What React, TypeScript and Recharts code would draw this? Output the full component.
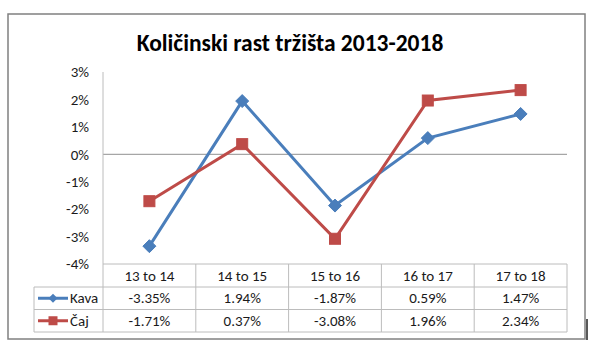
import React from 'react';
import { LineChart, Line, XAxis, YAxis, ReferenceLine, Customized } from 'recharts';

const title = 'Količinski rast tržišta 2013-2018';
const categories = ['13 to 14', '14 to 15', '15 to 16', '16 to 17', '17 to 18'];
const kava = [-3.35, 1.94, -1.87, 0.59, 1.47];
const caj = [-1.71, 0.37, -3.08, 1.96, 2.34];
const seriesNames = ['Kava', 'Čaj'];
const yTicks = [-4, -3, -2, -1, 0, 1, 2, 3];

const data = categories.map((c, i) => ({ cat: c, kava: kava[i], caj: caj[i] }));

const W = 596;
const H = 352;
const PLOT_L = 103;
const PLOT_R = 567;
const PLOT_T = 72;
const PLOT_B = 264;
const ROW1 = 287;
const ROW2 = 309.5;
const ROW3 = 332;
const LEG_L = 34;
const BLUE = '#4a7ebb';
const RED = '#be4b48';
const GRID = '#bcbcbc';
const FONT = 'Carlito, Calibri, Lato, "Liberation Sans", sans-serif';
const TXT = '#1a1a1a';
const FS = 15;

const halfBand = (PLOT_R - PLOT_L) / categories.length / 2;

const fmt = (v: number) => `${v.toFixed(2)}%`;

const Diamond = (props: any) => {
  const { cx, cy } = props;
  if (cx == null || cy == null) return null;
  const r = 6.5;
  return (
    <polygon
      points={`${cx},${cy - r} ${cx + r},${cy} ${cx},${cy + r} ${cx - r},${cy}`}
      fill={BLUE}
      stroke={BLUE}
      strokeWidth={1}
    />
  );
};

const Square = (props: any) => {
  const { cx, cy } = props;
  if (cx == null || cy == null) return null;
  const s = 11;
  return <rect x={cx - s / 2} y={cy - s / 2} width={s} height={s} fill={RED} stroke={RED} strokeWidth={1} />;
};

const TableTick = (props: any) => {
  const { x, payload, index } = props;
  const i = index as number;
  return (
    <g>
      <line x1={x + halfBand} y1={PLOT_B} x2={x + halfBand} y2={ROW3} stroke={GRID} strokeWidth={1} />
      <text x={x} y={(PLOT_B + ROW1) / 2 + 0.5} textAnchor="middle" dominantBaseline="central" fontSize={FS} fontFamily={FONT} fill={TXT}>
        {payload.value}
      </text>
      <text x={x} y={(ROW1 + ROW2) / 2} textAnchor="middle" dominantBaseline="central" fontSize={FS} fontFamily={FONT} fill={TXT}>
        {fmt(kava[i])}
      </text>
      <text x={x} y={(ROW2 + ROW3) / 2} textAnchor="middle" dominantBaseline="central" fontSize={FS} fontFamily={FONT} fill={TXT}>
        {fmt(caj[i])}
      </text>
    </g>
  );
};

const Frame = () => {
  const yK = (ROW1 + ROW2) / 2;
  const yC = (ROW2 + ROW3) / 2;
  return (
    <g>
      <rect x={8} y={14} width={577} height={325} fill="none" stroke="#808080" strokeWidth={1.5} />
      <line x1={587} y1={319} x2={587} y2={340} stroke="#222" strokeWidth={1.5} />
      <text x={290} y={43} textAnchor="middle" dominantBaseline="central" fontSize={23.5} fontWeight="bold" fontFamily={FONT} fill="#000">
        {title}
      </text>
      {/* table horizontal lines */}
      <line x1={LEG_L} y1={ROW1} x2={PLOT_R} y2={ROW1} stroke={GRID} strokeWidth={1} />
      <line x1={LEG_L} y1={ROW2} x2={PLOT_R} y2={ROW2} stroke={GRID} strokeWidth={1} />
      <line x1={LEG_L} y1={ROW3} x2={PLOT_R} y2={ROW3} stroke={GRID} strokeWidth={1} />
      <line x1={LEG_L} y1={ROW1} x2={LEG_L} y2={ROW3} stroke={GRID} strokeWidth={1} />
      <line x1={PLOT_L} y1={PLOT_B} x2={PLOT_L} y2={ROW3} stroke={GRID} strokeWidth={1} />
      {/* legend keys */}
      <line x1={38} y1={yK} x2={68} y2={yK} stroke={BLUE} strokeWidth={3} />
      <polygon points={`53,${yK - 4.5} 57.5,${yK} 53,${yK + 4.5} 48.5,${yK}`} fill={BLUE} />
      <text x={70} y={yK} dominantBaseline="central" fontSize={FS} fontFamily={FONT} fill={TXT}>
        {seriesNames[0]}
      </text>
      <line x1={38} y1={yC} x2={68} y2={yC} stroke={RED} strokeWidth={3} />
      <rect x={48.5} y={yC - 4.5} width={9} height={9} fill={RED} />
      <text x={70} y={yC} dominantBaseline="central" fontSize={FS} fontFamily={FONT} fill={TXT}>
        {seriesNames[1]}
      </text>
    </g>
  );
};

export default function App() {
  return (
    <div style={{ position: 'absolute', left: 0, top: 0, width: W, height: H, background: '#fff' }}>
      <LineChart
        width={W}
        height={H}
        data={data}
        margin={{ top: PLOT_T, right: W - PLOT_R, bottom: 20, left: 0 }}
      >
        <Customized component={Frame} />
        <XAxis
          dataKey="cat"
          height={H - PLOT_B - 20}
          padding={{ left: halfBand, right: halfBand }}
          axisLine={{ stroke: GRID, strokeWidth: 1 }}
          tickLine={false}
          tick={<TableTick />}
          interval={0}
        />
        <YAxis
          width={PLOT_L}
          domain={[-4, 3]}
          ticks={yTicks}
          tickFormatter={(v: number) => `${v}%`}
          axisLine={{ stroke: GRID, strokeWidth: 1 }}
          tickLine={false}
          tickMargin={8}
          tick={{ fontSize: FS, fontFamily: FONT, fill: TXT }}
          allowDataOverflow
        />
        <ReferenceLine y={0} stroke="#a6a6a6" strokeWidth={1.2} />
        <Line
          type="linear"
          dataKey="kava"
          stroke={BLUE}
          strokeWidth={3}
          dot={<Diamond />}
          activeDot={false}
          isAnimationActive={false}
        />
        <Line
          type="linear"
          dataKey="caj"
          stroke={RED}
          strokeWidth={3}
          dot={<Square />}
          activeDot={false}
          isAnimationActive={false}
        />
      </LineChart>
    </div>
  );
}
